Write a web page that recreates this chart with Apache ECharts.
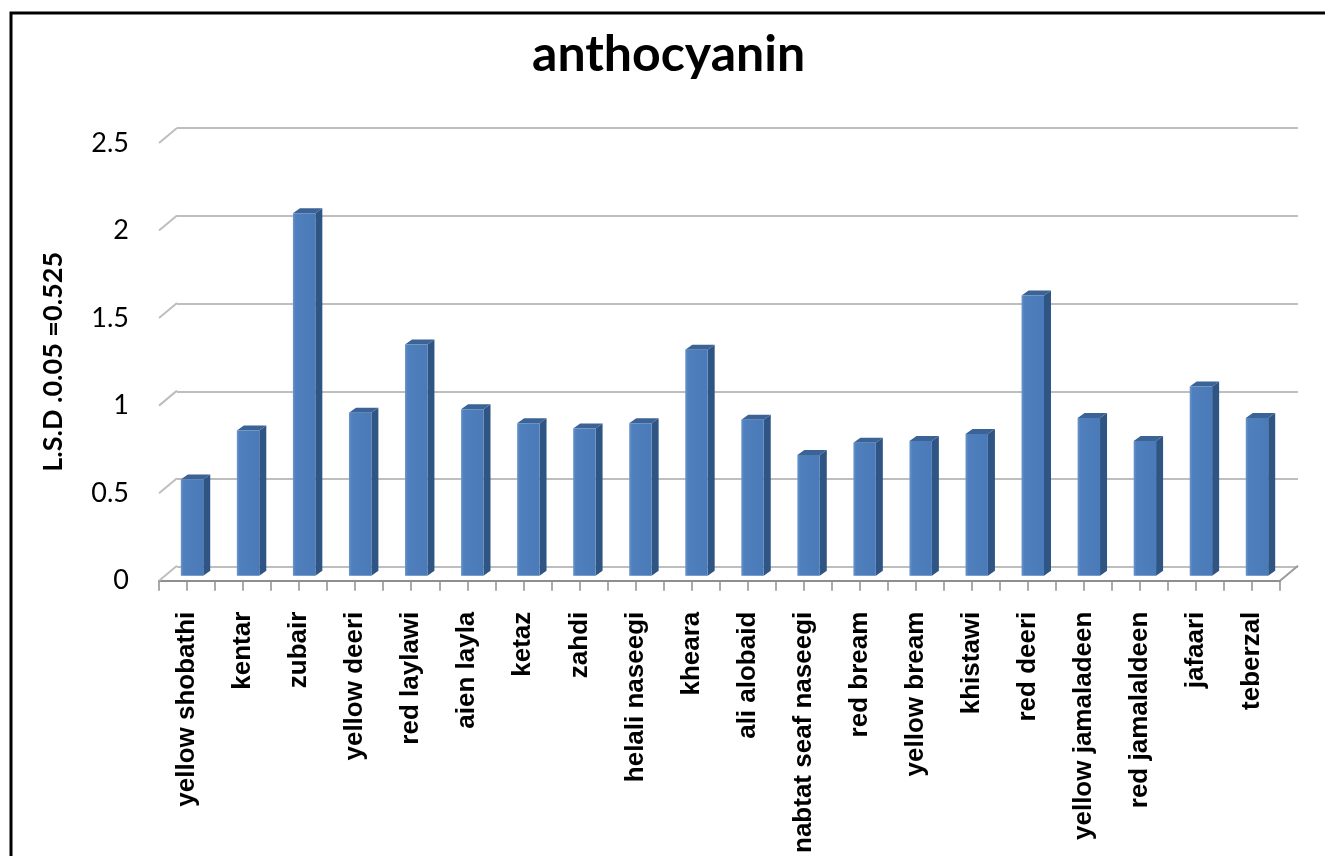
<!DOCTYPE html>
<html>
<head>
<meta charset="utf-8">
<script src="https://cdn.jsdelivr.net/npm/echarts@6/dist/echarts.min.js"></script>
<style>
  html, body { margin: 0; padding: 0; background: #fff; }
  #chart { width: 1325px; height: 856px; }
</style>
</head>
<body>
<div id="chart"></div>
<script>
// Anthocyanin content per cultivar
const categories = [
  'yellow shobathi', 'kentar', 'zubair', 'yellow deeri', 'red laylawi',
  'aien layla', 'ketaz', 'zahdi', 'helali naseegi', 'kheara',
  'ali alobaid', 'nabtat seaf naseegi', 'red bream', 'yellow bream', 'khistawi',
  'red deeri', 'yellow jamaladeen', 'red jamalaldeen', 'jafaari', 'teberzal'
];
const anthocyanin = [
  0.55, 0.83, 2.07, 0.93, 1.32,
  0.95, 0.87, 0.84, 0.87, 1.29,
  0.89, 0.69, 0.76, 0.77, 0.81,
  1.60, 0.90, 0.77, 1.08, 0.90
];
const yTicks = [0, 0.5, 1, 1.5, 2, 2.5];
const chartTitle = 'anthocyanin';
const yTitle = 'L.S.D .0.05 =0.525';

// pseudo-3D depth of the plot box (floor / back wall), in px
const DEPTH = [18, -15];
// bar placement inside the depth and thickness of the bar itself
const BAR_SHIFT = [5, -5];
const BAR_DEPTH = [7, -5];

const chart = echarts.init(document.getElementById('chart'), null, { renderer: 'canvas' });

function renderBar(params, api) {
  const i = api.value(0);
  const v = api.value(1);
  const base = api.coord([i, 0]);
  const top = api.coord([i, v]);
  const bw = api.size([1, 0])[0] * 0.4;
  const xl = base[0] - bw / 2 + BAR_SHIFT[0];
  const xr = xl + bw;
  const yb = base[1] + BAR_SHIFT[1];
  const yt = top[1] + BAR_SHIFT[1];
  const dx = BAR_DEPTH[0], dy = BAR_DEPTH[1];
  return {
    type: 'group',
    children: [
      {
        type: 'polygon',
        shape: { points: [[xr, yt], [xr + dx, yt + dy], [xr + dx, yb + dy], [xr, yb]] },
        style: { fill: '#2F5584' }
      },
      {
        type: 'polygon',
        shape: { points: [[xl, yt], [xl + dx, yt + dy], [xr + dx, yt + dy], [xr, yt]] },
        style: { fill: '#3B6396' }
      },
      {
        type: 'rect',
        shape: { x: xl, y: yt, width: bw, height: yb - yt },
        style: {
          fill: new echarts.graphic.LinearGradient(0, 0, 1, 0, [
            { offset: 0, color: '#6A95CB' },
            { offset: 0.12, color: '#4F80BD' },
            { offset: 1, color: '#4A7AB8' }
          ])
        }
      }
    ]
  };
}

// side edges of the plot box: left diagonals at each tick, right diagonal at the floor
function renderEdges(params, api) {
  const v = api.value(0);
  const left = api.coord([0, v]);
  const children = [{
    type: 'line',
    shape: { x1: left[0], y1: left[1], x2: left[0] + DEPTH[0], y2: left[1] + DEPTH[1] },
    style: { stroke: '#BEBEBE', lineWidth: 2 }
  }];
  if (v === 0) {
    const right = api.coord([20, 0]);
    children.push({
      type: 'line',
      shape: { x1: right[0], y1: right[1], x2: right[0] + DEPTH[0], y2: right[1] + DEPTH[1] },
      style: { stroke: '#9A9A9A', lineWidth: 2 }
    });
  }
  return { type: 'group', children };
}

const front = { left: 159, right: 45, top: 143, bottom: 274 };
const back = {
  left: front.left + DEPTH[0], right: front.right - DEPTH[0],
  top: front.top + DEPTH[1], bottom: front.bottom - DEPTH[1]
};

const option = {
  backgroundColor: '#fff',
  animation: false,
  title: {
    text: chartTitle,
    left: 527,
    top: 25,
    textStyle: { fontFamily: 'Lato', fontWeight: 'bold', fontSize: 50, color: '#000' }
  },
  graphic: [{
    type: 'rect',
    shape: { x: 11, y: 13, width: 2000, height: 2000 },
    style: { fill: 'none', stroke: '#000', lineWidth: 3 },
    z: 100
  }],
  grid: [
    Object.assign({ containLabel: false }, front),
    Object.assign({ containLabel: false }, back)
  ],
  xAxis: [
    {
      type: 'category', gridIndex: 0, data: categories, position: 'bottom',
      axisLine: { show: false }, axisTick: { show: false },
      axisLabel: {
        interval: 0, rotate: 90, margin: 31,
        fontFamily: 'Liberation Sans', fontWeight: 'bold', fontSize: 26, color: '#000'
      }
    },
    {
      type: 'value', gridIndex: 0, min: 0, max: 20, interval: 0.5, position: 'bottom',
      axisLine: { show: true, lineStyle: { color: '#8E8E8E', width: 2 } },
      axisTick: { show: true, length: 10, lineStyle: { color: '#8E8E8E', width: 1.5 } },
      axisLabel: { show: false }, splitLine: { show: false }
    },
    {
      type: 'value', gridIndex: 1, min: 0, max: 20, show: false
    }
  ],
  yAxis: [
    {
      type: 'value', gridIndex: 0, min: 0, max: 2.5, interval: 0.5,
      name: yTitle, nameLocation: 'middle', nameRotate: 90, nameGap: 92,
      nameTextStyle: { fontFamily: 'Lato', fontWeight: 'bold', fontSize: 27, color: '#000' },
      axisLine: { show: false }, axisTick: { show: false }, splitLine: { show: false },
      axisLabel: {
        margin: 30, fontFamily: 'Lato', fontSize: 27, color: '#000',
        formatter: (v) => String(v)
      }
    },
    {
      type: 'value', gridIndex: 1, min: 0, max: 2.5, interval: 0.5,
      axisLine: { show: false }, axisTick: { show: false }, axisLabel: { show: false },
      splitLine: { show: true, lineStyle: { color: '#BEBEBE', width: 2 } }
    }
  ],
  series: [
    {
      type: 'custom', name: 'edges', xAxisIndex: 1, yAxisIndex: 0,
      data: yTicks.map(v => [v]), renderItem: renderEdges, silent: true, z: 1
    },
    {
      type: 'custom', name: 'anthocyanin', xAxisIndex: 0, yAxisIndex: 0,
      data: anthocyanin.map((v, i) => [i, v]), renderItem: renderBar, z: 3
    }
  ]
};

chart.setOption(option);
</script>
</body>
</html>
